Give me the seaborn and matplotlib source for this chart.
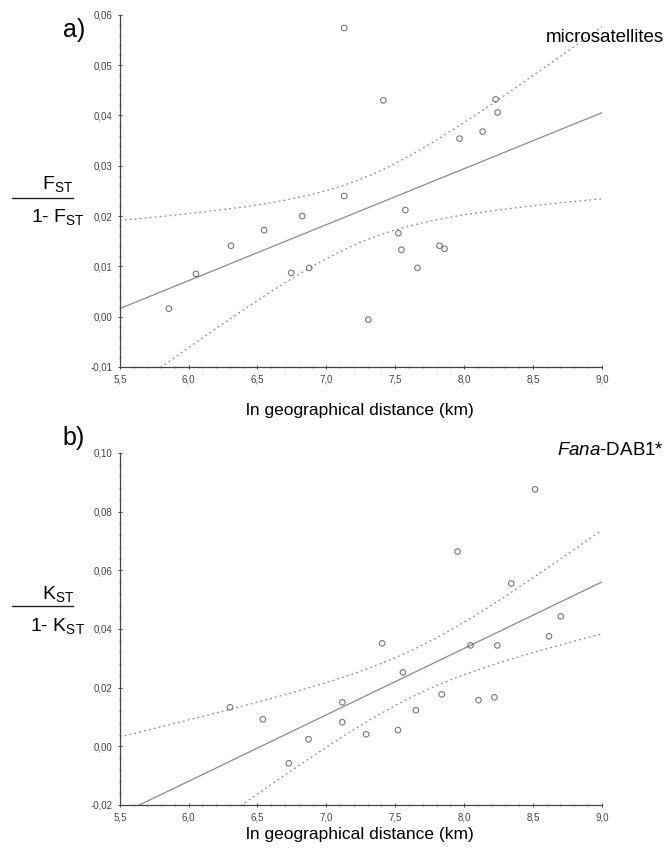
import numpy as np
import pandas as pd
import seaborn as sns
import matplotlib
matplotlib.use("Agg")
import matplotlib.pyplot as plt
from matplotlib.ticker import FuncFormatter, MultipleLocator, AutoMinorLocator

# Pairwise population data: ln geographic distance vs. linearised differentiation
ms_dist = [5.857, 6.053, 6.308, 6.548, 6.825, 6.745, 6.876, 7.130, 7.414, 7.130, 7.574,
           7.523, 7.545, 7.822, 7.858, 7.662, 7.305, 7.967, 8.135, 8.229, 8.244]
ms_fst = [0.0016, 0.0085, 0.0141, 0.0172, 0.0200, 0.0087, 0.0097, 0.0574, 0.0430, 0.0240, 0.0212,
          0.0166, 0.0133, 0.0141, 0.0135, 0.0097, -0.0006, 0.0354, 0.0368, 0.0432, 0.0406]

dab_dist = [6.301, 6.539, 6.871, 6.727, 8.516, 7.953, 8.343, 8.703, 8.617, 7.405, 8.047,
            8.242, 7.556, 7.116, 7.116, 7.838, 8.105, 8.220, 7.650, 7.289, 7.520]
dab_kst = [0.0133, 0.0092, 0.0024, -0.0058, 0.0876, 0.0664, 0.0555, 0.0443, 0.0375, 0.0351, 0.0344,
           0.0344, 0.0252, 0.0150, 0.0082, 0.0177, 0.0157, 0.0167, 0.0123, 0.0041, 0.0055]

x_ticks = [5.5, 6.0, 6.5, 7.0, 7.5, 8.0, 8.5, 9.0]
ylim_a = (-0.01, 0.06)
ylim_b = (-0.02, 0.10)

sns.set_theme(style="white")
plt.rcParams["font.family"] = ["Liberation Sans", "DejaVu Sans"]
plt.rcParams["text.color"] = "black"
plt.rcParams["mathtext.fontset"] = "custom"
plt.rcParams["mathtext.rm"] = "Liberation Sans"
plt.rcParams["mathtext.it"] = "Liberation Sans:italic"
plt.rcParams["mathtext.default"] = "regular"

T975_19 = 2.093  # two-sided 95% t quantile, 19 df

fig = plt.figure(figsize=(6.69, 8.51), dpi=100)
ax_a = fig.add_axes([0.179, 0.5688, 0.7205, 0.4137])
ax_b = fig.add_axes([0.179, 0.0541, 0.7205, 0.4136])

point_col = "#555555"
line_col = "#8a8a8a"


def fit_band(x, y, xs):
    x = np.asarray(x)
    y = np.asarray(y)
    n = len(x)
    b, a = np.polyfit(x, y, 1)
    resid = y - (a + b * x)
    s = np.sqrt(np.sum(resid ** 2) / (n - 2))
    sxx = np.sum((x - x.mean()) ** 2)
    se = s * np.sqrt(1.0 / n + (xs - x.mean()) ** 2 / sxx)
    fit = a + b * xs
    return fit - T975_19 * se, fit + T975_19 * se


def panel(ax, x, y, ylim, ystep):
    ax.set_xlim(5.5, 9.0)
    ax.set_ylim(*ylim)
    df = pd.DataFrame({"dist": x, "val": y})
    sns.regplot(data=df, x="dist", y="val", ax=ax, ci=None, truncate=False,
                marker="o",
                scatter_kws=dict(s=16, facecolors="none", edgecolors=point_col,
                                 linewidths=0.8, zorder=3),
                line_kws=dict(color=line_col, lw=0.9, zorder=2))
    xs = np.linspace(5.5, 9.0, 200)
    lo, hi = fit_band(x, y, xs)
    band = pd.DataFrame({"dist": np.concatenate([xs, xs]),
                         "val": np.concatenate([lo, hi]),
                         "edge": ["lo"] * len(xs) + ["hi"] * len(xs)})
    sns.lineplot(data=band, x="dist", y="val", units="edge", estimator=None,
                 ax=ax, color=line_col, lw=0.9, linestyle=(0, (1.5, 2.5)),
                 zorder=2)
    ax.set_xlim(5.5, 9.0)
    ax.set_ylim(*ylim)
    ax.set_xticks(x_ticks)
    ax.yaxis.set_major_locator(MultipleLocator(ystep))
    ax.yaxis.set_minor_locator(AutoMinorLocator(5))
    ax.xaxis.set_minor_locator(AutoMinorLocator(5))
    ax.xaxis.set_major_formatter(FuncFormatter(lambda v, p: f"{v:.1f}".replace(".", ",")))
    ax.yaxis.set_major_formatter(FuncFormatter(lambda v, p: f"{v:.2f}".replace(".", ",")))
    ax.tick_params(axis="both", which="major", labelsize=7, labelcolor="#444444",
                   length=3, width=0.7, color="#444444", direction="inout", pad=4,
                   left=True, bottom=True)
    ax.tick_params(axis="both", which="minor", length=1.5, width=0.6,
                   color="#666666", direction="inout", left=True, bottom=True)
    for side in ("top", "right"):
        ax.spines[side].set_visible(False)
    for side in ("left", "bottom"):
        ax.spines[side].set_color("#444444")
        ax.spines[side].set_linewidth(0.9)
    ax.set_xlabel("")
    ax.set_ylabel("")


panel(ax_a, ms_dist, ms_fst, ylim_a, 0.01)
panel(ax_b, dab_dist, dab_kst, ylim_b, 0.02)

W, H = 669.0, 851.0


def fx(px):
    return px / W


def fy(py):
    return 1 - py / H


# Axis titles below each panel
fig.text(fx(360), fy(410), "ln geographical distance (km)", fontsize=12.5, ha="center", va="center")
fig.text(fx(360), fy(834), "ln geographical distance (km)", fontsize=12.5, ha="center", va="center")

# Panel letters and marker names
fig.text(fx(74), fy(30), "a)", fontsize=18, ha="center", va="center")
fig.text(fx(74), fy(438), "b)", fontsize=18, ha="center", va="center")
fig.text(fx(664), fy(38), "microsatellites", fontsize=13.5, ha="right", va="center")
fig.text(fx(664), fy(450), r"$\mathit{Fana}$-DAB1*", fontsize=13.5, ha="right", va="center")


# Stacked-fraction y labels
def frac_label(sym, y_num, y_bar, y_den):
    fig.text(fx(58), fy(y_num), sym + r"$_{\mathrm{ST}}$", fontsize=14, ha="center", va="center")
    fig.text(fx(58), fy(y_den), "1- " + sym + r"$_{\mathrm{ST}}$", fontsize=14, ha="center", va="center")
    fig.add_artist(plt.Line2D([fx(12), fx(73)], [fy(y_bar), fy(y_bar)],
                              transform=fig.transFigure, color="#222222", lw=1.0))


frac_label("F", 184, 198, 217)
frac_label("K", 594, 606, 626)

fig.savefig("out.png", dpi=100, facecolor="white")
